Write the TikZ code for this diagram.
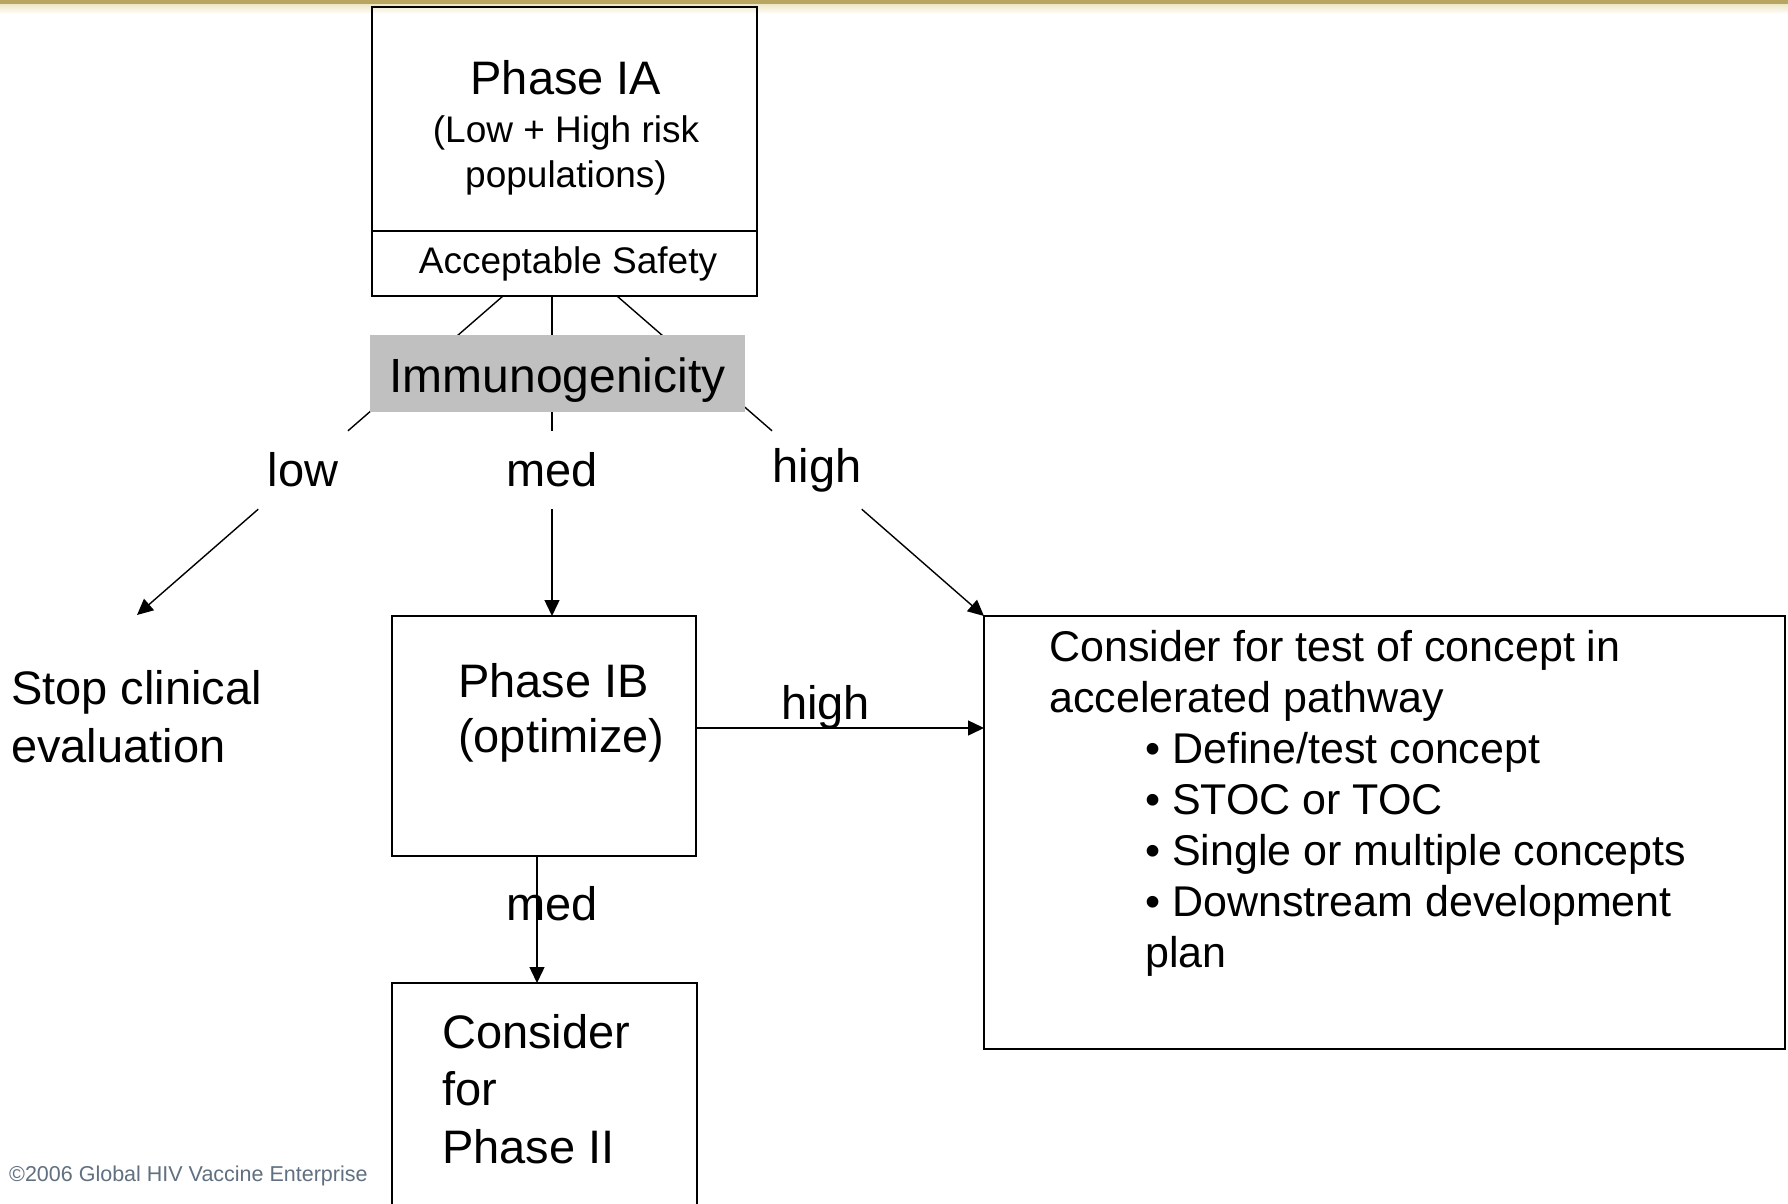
\documentclass[tikz,border=0pt]{standalone}
\usepackage{fontspec}
\setmainfont{Liberation Sans}
\usetikzlibrary{arrows.meta,calc}
\definecolor{imgray}{RGB}{192,192,192}
\definecolor{copyc}{RGB}{96,112,128}
\definecolor{goldbar}{RGB}{184,166,96}
\definecolor{goldlight}{RGB}{236,228,190}
\begin{document}
\begin{tikzpicture}[x=1pt,y=-1pt,
  box/.style={draw=black,line width=1.6pt,inner sep=0,outer sep=0,anchor=north west},
  conn/.style={line width=1.4pt,draw=black},
  arr/.style={conn,-{Triangle[length=16pt,width=15pt]}},
  big/.style={font=\fontsize{47}{56}\selectfont,inner sep=0},
  mid/.style={font=\fontsize{37}{44}\selectfont,inner sep=0},
  rbt/.style={font=\fontsize{43}{51}\selectfont,inner sep=0,anchor=base west},
  lbl/.style={big,minimum width=100,minimum height=78,anchor=center}]
\useasboundingbox (0,0) rectangle (1788,1203);
\fill[white] (0,0) rectangle (1788,1203);
\shade[top color=goldlight,bottom color=white] (0,3) rectangle (1788,14);
\fill[goldbar] (0,0) rectangle (1788,3.5);

% Phase IA
\node[box,minimum width=385,minimum height=224] (ia) at (372,7) {};
\node[box,minimum width=385,minimum height=65] (safe) at (372,231) {};
\node[big,anchor=base] at (566,94) {Phase IA};
\node[mid,anchor=base] at (566,142) {(Low + High risk};
\node[mid,anchor=base] at (566,187) {populations)};
\node[mid,anchor=base] at (568,273) {Acceptable Safety};

% branch labels
\node[lbl] (low) at (303,470) {low};
\node[lbl] (med) at (552,470) {med};
\node[lbl] (high) at (817,470) {high};

\coordinate (iaL) at (503,296);
\coordinate (iaM) at (552,296);
\coordinate (iaR) at (617,296);
\coordinate (stopTip) at (137,615);

% boxes
\node[box,minimum width=304,minimum height=240] (ib) at (392,616) {};
\node[box,minimum width=801,minimum height=433] (tc) at (984,616) {};
\node[box,minimum width=305,minimum height=240] (p2) at (392,983) {};

% connectors
\draw[conn] (iaL) -- (low);
\draw[arr] (low) -- (stopTip);
\draw[conn] (iaM) -- (med);
\draw[arr] (med) -- (med |- ib.north);
\draw[conn] (iaR) -- (high);
\draw[arr] (high) -- (tc.north west);
\draw[arr] ([yshift=8pt]ib.east) -- ([yshift=8pt]ib.east -| tc.west);
\draw[arr] ([xshift=-7pt]ib.south) -- ([xshift=-7pt]ib.south |- p2.north);

% Immunogenicity box (on top of the lines)
\node[fill=imgray,inner sep=0,minimum width=375,minimum height=77,anchor=north west] (imm) at (370,335) {};
\node[font=\fontsize{48}{57}\selectfont,inner sep=0,anchor=base] at (557.5,392) {Immunogenicity};

% texts
\node[big,anchor=base west] at (458,697) {Phase IB};
\node[big,anchor=base west] at (458,752) {(optimize)};
\node[big,anchor=base west] at (781,719) {high};
\node[big,anchor=base west] at (506,920) {med};

\node[big,anchor=base west] at (11,704) {Stop clinical};
\node[big,anchor=base west] at (11,762) {evaluation};

\node[big,anchor=base west] at (442,1048) {Consider};
\node[big,anchor=base west] at (442,1105) {for};
\node[big,anchor=base west] at (442,1163) {Phase II};

\node[rbt] at (1049,661) {Consider for test of concept in};
\node[rbt] at (1049,712) {accelerated pathway};
\node[rbt] at (1145,763) {\textbullet\ Define/test concept};
\node[rbt] at (1145,814) {\textbullet\ STOC or TOC};
\node[rbt] at (1145,865) {\textbullet\ Single or multiple concepts};
\node[rbt] at (1145,916) {\textbullet\ Downstream development};
\node[rbt] at (1145,967) {plan};

\node[font=\fontsize{21.5}{26}\selectfont,text=copyc,anchor=base west,inner sep=0] at (9,1181) {©2006 Global HIV Vaccine Enterprise};
\end{tikzpicture}
\end{document}
